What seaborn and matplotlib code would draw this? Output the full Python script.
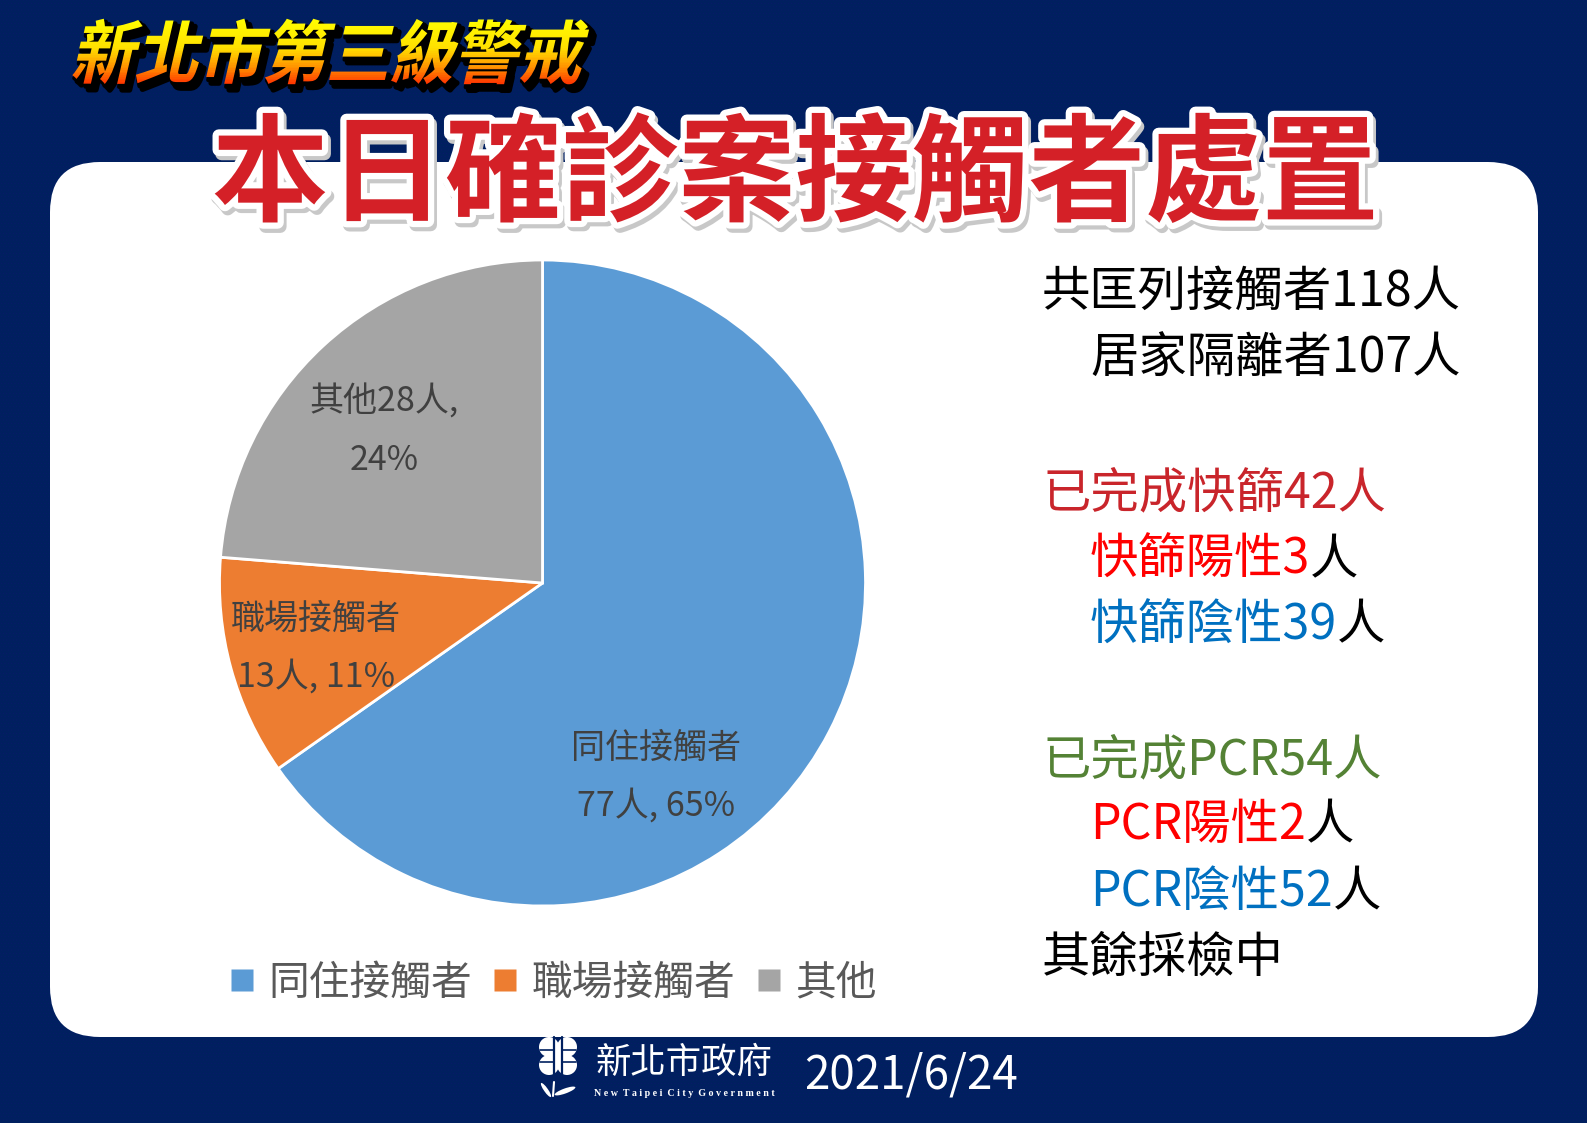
import matplotlib
matplotlib.use('Agg')
import matplotlib.pyplot as plt
import seaborn as sns
import numpy as np
from matplotlib.patches import FancyBboxPatch, Rectangle, Circle, Ellipse
from matplotlib.lines import Line2D
from matplotlib.transforms import Affine2D, Bbox
from matplotlib.colors import to_rgb
import matplotlib.patheffects as pe

sns.set_theme(style="white")
CJK = ['Noto Sans CJK TC', 'DejaVu Sans']
plt.rcParams['font.family'] = CJK

W, H = 1587, 1123
NAVY = '#00205F'

# chart data
categories = ['同住接觸者', '職場接觸者', '其他']
people = [77, 13, 28]
slice_labels = ['同住接觸者\n77人, 65%', '職場接觸者\n13人, 11%', '其他28人,\n24%']
slice_colors = sns.color_palette(['#5B9BD5', '#ED7D31', '#A5A5A5'])

# side notes, every line is a list of (text, colour) runs
note_lines = [
    [('共匡列接觸者118人', 'black')],
    [('居家隔離者107人', 'black')],
    [('已完成快篩42人', '#C9252B')],
    [('快篩陽性3', '#FF0000'), ('人', 'black')],
    [('快篩陰性39', '#0070C0'), ('人', 'black')],
    [('已完成PCR54人', '#548235')],
    [('PCR陽性2', '#FF0000'), ('人', 'black')],
    [('PCR陰性52', '#0070C0'), ('人', 'black')],
    [('其餘採檢中', 'black')],
]
note_x = [1042, 1090, 1042, 1090, 1090, 1042, 1090, 1090, 1042]
note_y = [287, 354, 488, 555, 620, 755, 820, 887, 953]


def slant(affine, skew, stretch):
    # slant and stretch about the text baseline
    x0, y0 = affine.transform((0, 0))
    return affine + Affine2D().translate(-x0, -y0).scale(1, stretch).skew_deg(skew, 0).translate(x0, y0)


class SkewGradient(pe.AbstractPathEffect):
    # slanted text, filled band by band from top colour to bottom colour
    def __init__(self, stops, skew=13, stretch=1.08, bands=40):
        super().__init__()
        self.stops = stops
        self.skew = skew
        self.stretch = stretch
        self.bands = bands

    def draw_path(self, renderer, gc, tpath, affine, rgbFace=None):
        tr = slant(affine, self.skew, self.stretch)
        ext = tpath.transformed(tr).get_extents()
        edges = np.linspace(ext.y1 + 1, ext.y0 - 1, self.bands + 1)
        pos = [s[0] for s in self.stops]
        cols = np.array([to_rgb(s[1]) for s in self.stops])
        for i in range(self.bands):
            t = (i + 0.5) / self.bands
            c = [np.interp(t, pos, cols[:, k]) for k in range(3)]
            g = renderer.new_gc()
            g.copy_properties(gc)
            g.set_linewidth(0)
            g.set_clip_rectangle(Bbox.from_extents(ext.x0 - 2, edges[i + 1], ext.x1 + 2, edges[i]))
            renderer.draw_path(g, tpath, tr, c)
            g.restore()


class SkewStroke(pe.AbstractPathEffect):
    # black slanted shadow behind the gradient
    def __init__(self, offset, width, skew=13, stretch=1.08):
        super().__init__(offset)
        self.width = width
        self.skew = skew
        self.stretch = stretch

    def draw_path(self, renderer, gc, tpath, affine, rgbFace=None):
        tr = slant(affine, self.skew, self.stretch) + Affine2D().translate(*self._offset)
        g = renderer.new_gc()
        g.copy_properties(gc)
        g.set_linewidth(self.width)
        g.set_foreground('black')
        g.set_joinstyle('round')
        renderer.draw_path(g, tpath, tr, (0, 0, 0))
        g.restore()


fig = plt.figure(figsize=(W / 100, H / 100), dpi=100)

# background and white panel
bg = fig.add_axes([0, 0, 1, 1], zorder=0)
bg.set_xlim(0, W)
bg.set_ylim(H, 0)
bg.axis('off')
plt.rcParams['hatch.linewidth'] = 0.4
bg.add_patch(Rectangle((0, 0), W, H, facecolor=NAVY, edgecolor='#0A1A6A', hatch='.....', lw=0))
bg.add_patch(FancyBboxPatch((100, 212), 1388, 775, boxstyle='round,pad=50,rounding_size=50',
                            facecolor='white', edgecolor='none'))

# pie, centre (542.5, 583) radius 323 in pixels
pie_ax = fig.add_axes([(542.5 - 323) / W, 1 - (583 + 323) / H, 646 / W, 646 / H], zorder=1)
pie_ax.pie(people, colors=slice_colors, startangle=90, counterclock=False, radius=1,
           wedgeprops={'edgecolor': 'white', 'linewidth': 2})
pie_ax.set_xlim(-1, 1)
pie_ax.set_ylim(-1, 1)

# text layer
txt = fig.add_axes([0, 0, 1, 1], zorder=2)
txt.set_xlim(0, W)
txt.set_ylim(H, 0)
txt.axis('off')
txt.patch.set_alpha(0)

# headings
head = txt.text(70, 78, '新北市第三級警戒', fontsize=46, fontweight='bold', color='#FFAA00',
                ha='left', va='baseline')
head.set_path_effects([
    SkewStroke((5, -6), 4),
    SkewStroke((2, -3), 3),
    SkewGradient([(0, '#FFFF00'), (0.45, '#FFE000'), (0.75, '#FF8C00'), (1, '#FF2A00')]),
])

title = txt.text(795, 178, '本日確診案接觸者處置', fontsize=84, fontweight='bold', color='#D42027',
                 ha='center', va='center')
title.set_path_effects([
    pe.Stroke(linewidth=9, foreground='#C8C8C8', offset=(2, -3)),
    pe.Stroke(linewidth=9, foreground='white'),
    pe.Normal(),
])

# slice labels
label_pos = [(656, 777), (316, 648), (384, 431)]
for s, (x, y) in zip(slice_labels, label_pos):
    txt.text(x, y, s, fontsize=24.5, fontweight='medium', color='#404040', ha='center', va='center',
             linespacing=1.85)

# legend
handles = [Line2D([], [], ls='none', marker='s', ms=16, mfc=c, mec='none') for c in slice_colors]
txt.legend(handles, categories, loc='center', bbox_to_anchor=(551 / W, 1 - 983 / H), ncol=3,
           frameon=False, labelcolor='#595959', handletextpad=0.25, columnspacing=0.42,
           handlelength=0.8, prop={'weight': 'medium', 'size': 29.3})

# side notes
fig.canvas.draw()
rend = fig.canvas.get_renderer()
for runs, x, y in zip(note_lines, note_x, note_y):
    cur = x
    for s, c in runs:
        t = txt.text(cur, y, s, fontsize=34.8, fontweight='medium', color=c, ha='left', va='center_baseline')
        bb = t.get_window_extent(rend)
        cur = x + (bb.x1 - txt.transData.transform((x, y))[0])

# footer
txt.text(804, 1075, '2021/6/24', fontsize=33, color='white', ha='left', va='center')
txt.text(684, 1063, '新北市政府', fontsize=25.5, color='white', ha='center', va='center')
txt.text(684, 1093, 'N e w  T a i p e i  C i t y  G o v e r n m e n t', fontsize=7.2, color='white',
         family='Liberation Serif', fontweight='bold', ha='center', va='center')

# city emblem
for dx, dy in [(-9, -9), (9, -9), (-9, 9), (9, 9)]:
    txt.add_patch(Circle((558 + dx, 1056 + dy), 10, facecolor='white', edgecolor='none'))
txt.add_patch(Circle((558, 1056), 12, facecolor='white', edgecolor='none'))
for dx in (-4, 4):
    txt.plot([558 + dx, 558 + dx], [1037, 1075], color=NAVY, lw=1.6)
txt.plot([540, 553], [1050, 1050], color=NAVY, lw=1.2)
txt.plot([540, 553], [1062, 1062], color=NAVY, lw=1.2)
txt.plot([563, 576], [1050, 1050], color=NAVY, lw=1.2)
txt.plot([563, 576], [1062, 1062], color=NAVY, lw=1.2)
txt.add_patch(Ellipse((565, 1091), 22, 5, angle=-20, facecolor='white', edgecolor='none'))
txt.add_patch(Ellipse((546, 1090), 17, 4, angle=55, facecolor='white', edgecolor='none'))
txt.plot([554, 553], [1082, 1096], color='white', lw=1.5)
txt.set_xlim(0, W)
txt.set_ylim(H, 0)

fig.savefig('out.png', dpi=100)
